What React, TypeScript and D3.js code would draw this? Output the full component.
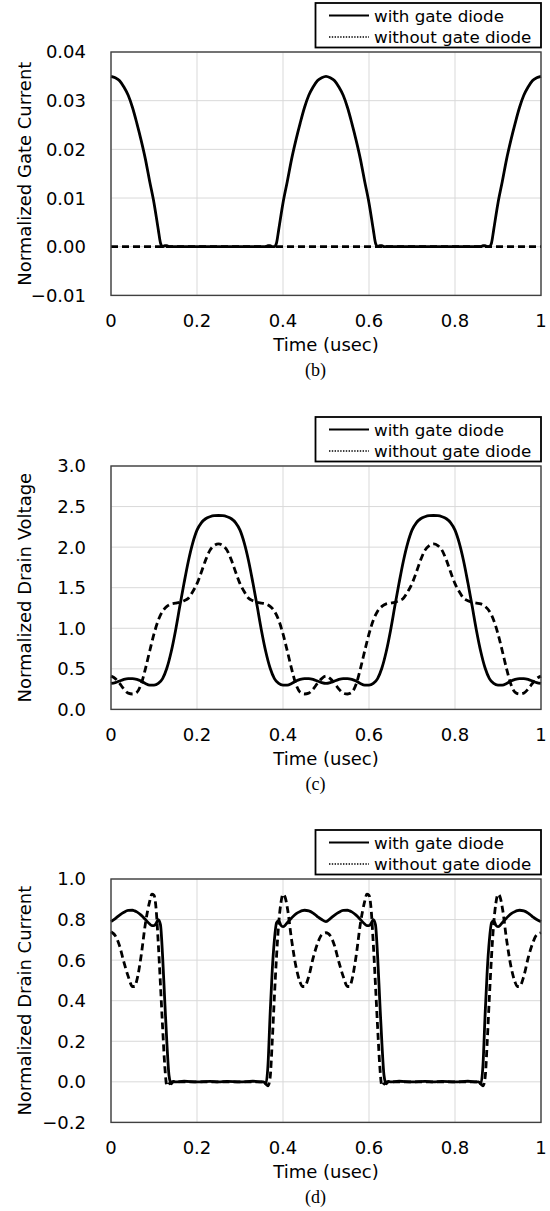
import React from "react";
import * as d3 from "d3";

// ---------- shared axis data ----------
const timeTicks = [0, 0.2, 0.4, 0.6, 0.8, 1];
const timeTickLabels = ["0", "0.2", "0.4", "0.6", "0.8", "1"];
const legendLabels = ["with gate diode", "without gate diode"];
const xTitle = "Time (usec)";

// ---------- panel (b): normalized gate current ----------
const gateTicks = [-0.01, 0, 0.01, 0.02, 0.03, 0.04];
const gateTime = [
  0, 0.01, 0.02, 0.03, 0.04, 0.05, 0.06, 0.07, 0.08, 0.09, 0.1, 0.11, 0.115, 0.12, 0.125, 0.13, 0.135, 0.14, 0.15, 0.2,
  0.25, 0.3, 0.35, 0.36, 0.365, 0.37, 0.375, 0.38, 0.385, 0.39, 0.4, 0.41, 0.42, 0.43, 0.44, 0.45, 0.46, 0.47, 0.48, 0.49,
  0.5, 0.51, 0.52, 0.53, 0.54, 0.55, 0.56, 0.57, 0.58, 0.59, 0.6, 0.61, 0.615, 0.62, 0.625, 0.63, 0.635, 0.64, 0.65, 0.7,
  0.75, 0.8, 0.85, 0.86, 0.865, 0.87, 0.875, 0.88, 0.885, 0.89, 0.9, 0.91, 0.92, 0.93, 0.94, 0.95, 0.96, 0.97, 0.98, 0.99, 1.0,
];
const gateWith = [
  0.035, 0.0347, 0.0341, 0.0328, 0.0311, 0.0286, 0.0254, 0.0219, 0.018, 0.0134, 0.009, 0.0035, 0.0008, 0.0, 0.0002, 0.0002, 0.0, 0.0, 0.0, 0.0,
  0.0, 0.0, 0.0, 0.0, 0.0002, 0.0002, 0.0, 0.0, 0.0008, 0.0035, 0.009, 0.0134, 0.018, 0.0219, 0.0254, 0.0286, 0.0311, 0.0328, 0.0341, 0.0347,
  0.035, 0.0347, 0.0341, 0.0328, 0.0311, 0.0286, 0.0254, 0.0219, 0.018, 0.0134, 0.009, 0.0035, 0.0008, 0.0, 0.0002, 0.0002, 0.0, 0.0, 0.0, 0.0,
  0.0, 0.0, 0.0, 0.0, 0.0002, 0.0002, 0.0, 0.0, 0.0008, 0.0035, 0.009, 0.0134, 0.018, 0.0219, 0.0254, 0.0286, 0.0311, 0.0328, 0.0341, 0.0347, 0.035,
];
const gateWithoutTime = [0, 1];
const gateWithout = [0, 0];

// ---------- panel (c): normalized drain voltage ----------
const voltTicks = [0, 0.5, 1.0, 1.5, 2.0, 2.5, 3.0];
const voltTime = [
  0, 0.01, 0.02, 0.03, 0.04, 0.05, 0.06, 0.07, 0.08, 0.09, 0.1, 0.11, 0.12, 0.13, 0.14, 0.15, 0.16, 0.17, 0.18, 0.19,
  0.2, 0.21, 0.22, 0.23, 0.24, 0.25, 0.26, 0.27, 0.28, 0.29, 0.3, 0.31, 0.32, 0.33, 0.34, 0.35, 0.36, 0.37, 0.38, 0.39,
  0.4, 0.41, 0.42, 0.43, 0.44, 0.45, 0.46, 0.47, 0.48, 0.49, 0.5, 0.51, 0.52, 0.53, 0.54, 0.55, 0.56, 0.57, 0.58, 0.59,
  0.6, 0.61, 0.62, 0.63, 0.64, 0.65, 0.66, 0.67, 0.68, 0.69, 0.7, 0.71, 0.72, 0.73, 0.74, 0.75, 0.76, 0.77, 0.78, 0.79,
  0.8, 0.81, 0.82, 0.83, 0.84, 0.85, 0.86, 0.87, 0.88, 0.89, 0.9, 0.91, 0.92, 0.93, 0.94, 0.95, 0.96, 0.97, 0.98, 0.99, 1.0,
];
const voltWith = [
  0.32, 0.33, 0.35, 0.37, 0.38, 0.38, 0.37, 0.35, 0.32, 0.3, 0.3, 0.32, 0.38, 0.51, 0.71, 0.97, 1.27, 1.56, 1.83, 2.05,
  2.21, 2.3, 2.35, 2.375, 2.388, 2.39, 2.388, 2.375, 2.35, 2.3, 2.21, 2.05, 1.83, 1.56, 1.27, 0.97, 0.71, 0.51, 0.38, 0.32,
  0.3, 0.3, 0.32, 0.35, 0.37, 0.38, 0.38, 0.37, 0.35, 0.33, 0.32, 0.33, 0.35, 0.37, 0.38, 0.38, 0.37, 0.35, 0.32, 0.3,
  0.3, 0.32, 0.38, 0.51, 0.71, 0.97, 1.27, 1.56, 1.83, 2.05, 2.21, 2.3, 2.35, 2.375, 2.388, 2.39, 2.388, 2.375, 2.35, 2.3,
  2.21, 2.05, 1.83, 1.56, 1.27, 0.97, 0.71, 0.51, 0.38, 0.32, 0.3, 0.3, 0.32, 0.35, 0.37, 0.38, 0.38, 0.37, 0.35, 0.33, 0.32,
];
const voltWithout = [
  0.41, 0.38, 0.32, 0.25, 0.2, 0.19, 0.21, 0.31, 0.5, 0.72, 0.93, 1.1, 1.21, 1.27, 1.3, 1.31, 1.32, 1.34, 1.37, 1.45,
  1.55, 1.69, 1.84, 1.96, 2.02, 2.04, 2.02, 1.96, 1.84, 1.69, 1.55, 1.45, 1.37, 1.34, 1.32, 1.31, 1.3, 1.27, 1.21, 1.1,
  0.93, 0.72, 0.5, 0.31, 0.21, 0.19, 0.2, 0.25, 0.32, 0.38, 0.41, 0.38, 0.32, 0.25, 0.2, 0.19, 0.21, 0.31, 0.5, 0.72,
  0.93, 1.1, 1.21, 1.27, 1.3, 1.31, 1.32, 1.34, 1.37, 1.45, 1.55, 1.69, 1.84, 1.96, 2.02, 2.04, 2.02, 1.96, 1.84, 1.69,
  1.55, 1.45, 1.37, 1.34, 1.32, 1.31, 1.3, 1.27, 1.21, 1.1, 0.93, 0.72, 0.5, 0.31, 0.21, 0.19, 0.2, 0.25, 0.32, 0.38, 0.41,
];

// ---------- panel (d): normalized drain current ----------
const currTicks = [-0.2, 0, 0.2, 0.4, 0.6, 0.8, 1.0];
const currTime = [
  0, 0.01, 0.02, 0.03, 0.04, 0.05, 0.055, 0.06, 0.07, 0.08, 0.09, 0.095, 0.1, 0.105, 0.11, 0.115, 0.12, 0.125, 0.13, 0.135,
  0.14, 0.145, 0.15, 0.17, 0.2, 0.23, 0.25,
  0.27, 0.3, 0.33, 0.35, 0.355, 0.36, 0.365, 0.37, 0.375, 0.38, 0.385, 0.39, 0.395, 0.4, 0.405, 0.41, 0.42, 0.43, 0.44, 0.445,
  0.45, 0.46, 0.47, 0.48, 0.49, 0.5,
  0.51, 0.52, 0.53, 0.54, 0.55, 0.555, 0.56, 0.57, 0.58, 0.59, 0.595, 0.6, 0.605, 0.61, 0.615, 0.62, 0.625, 0.63, 0.635,
  0.64, 0.645, 0.65, 0.67, 0.7, 0.73, 0.75,
  0.77, 0.8, 0.83, 0.85, 0.855, 0.86, 0.865, 0.87, 0.875, 0.88, 0.885, 0.89, 0.895, 0.9, 0.905, 0.91, 0.92, 0.93, 0.94, 0.945,
  0.95, 0.96, 0.97, 0.98, 0.99, 1.0,
];
const currWith = [
  0.79, 0.805, 0.822, 0.836, 0.845, 0.846, 0.843, 0.838, 0.822, 0.8, 0.778, 0.77, 0.77, 0.782, 0.8, 0.775, 0.62, 0.4, 0.19, 0.03,
  -0.01, 0.002, 0.0, 0.003, 0.0, 0.002, 0.0,
  0.002, 0.0, 0.003, 0.0, 0.0, -0.01, 0.08, 0.33, 0.55, 0.7, 0.785, 0.795, 0.772, 0.765, 0.772, 0.785, 0.808, 0.828, 0.84, 0.844,
  0.846, 0.843, 0.832, 0.815, 0.8, 0.79,
  0.805, 0.822, 0.836, 0.845, 0.846, 0.843, 0.838, 0.822, 0.8, 0.778, 0.77, 0.77, 0.782, 0.8, 0.775, 0.62, 0.4, 0.19, 0.03,
  -0.01, 0.002, 0.0, 0.003, 0.0, 0.002, 0.0,
  0.002, 0.0, 0.003, 0.0, 0.0, -0.01, 0.08, 0.33, 0.55, 0.7, 0.785, 0.795, 0.772, 0.765, 0.772, 0.785, 0.808, 0.828, 0.84, 0.844,
  0.846, 0.843, 0.832, 0.815, 0.8, 0.79,
];
const currWithout = [
  0.74, 0.72, 0.67, 0.59, 0.52, 0.47, 0.47, 0.5, 0.62, 0.78, 0.89, 0.925, 0.92, 0.85, 0.68, 0.48, 0.27, 0.08, -0.02, -0.01,
  0.0, 0.0, 0.0, 0.0, 0.0, 0.0, 0.0,
  0.0, 0.0, 0.0, 0.0, 0.0, -0.01, -0.02, 0.02, 0.2, 0.42, 0.62, 0.78, 0.88, 0.925, 0.91, 0.86, 0.7, 0.57, 0.49, 0.47,
  0.47, 0.52, 0.61, 0.68, 0.725, 0.735,
  0.72, 0.67, 0.59, 0.52, 0.47, 0.47, 0.5, 0.62, 0.78, 0.89, 0.925, 0.92, 0.85, 0.68, 0.48, 0.27, 0.08, -0.02, -0.01,
  0.0, 0.0, 0.0, 0.0, 0.0, 0.0, 0.0,
  0.0, 0.0, 0.0, 0.0, 0.0, -0.01, -0.02, 0.02, 0.2, 0.42, 0.62, 0.78, 0.88, 0.925, 0.91, 0.86, 0.7, 0.57, 0.49, 0.47,
  0.47, 0.52, 0.61, 0.68, 0.725, 0.735,
];

// ---------- layout ----------
const W = 550;
const H = 1211;
const plotLeft = 111;
const plotRight = 541;
const plotH = 243.4;
const SANS = "'DejaVu Sans', Verdana, sans-serif";
const SERIF = "'Liberation Serif', 'Times New Roman', serif";

type PanelProps = {
  top: number;
  yDomain: [number, number];
  yTicks: number[];
  yDigits: number;
  yTitle: string;
  label: string;
  withT: number[];
  withV: number[];
  withoutT: number[];
  withoutV: number[];
};

function Panel(p: PanelProps) {
  const bottom = p.top + plotH;
  const x = d3.scaleLinear().domain([0, 1]).range([plotLeft, plotRight]);
  const y = d3.scaleLinear().domain(p.yDomain).range([bottom, p.top]);
  const line = d3
    .line<[number, number]>()
    .x((d) => x(d[0]))
    .y((d) => y(d[1]))
    .curve(d3.curveMonotoneX);
  const withPts = p.withT.map((t, i) => [t, p.withV[i]] as [number, number]);
  const withoutPts = p.withoutT.map((t, i) => [t, p.withoutV[i]] as [number, number]);
  const clipId = "clip" + p.label.replace(/[()]/g, "");
  const fmt = d3.format("." + p.yDigits + "f");
  const midY = (p.top + bottom) / 2;
  const legTop = p.top - 49;
  return (
    <g>
      <defs>
        <clipPath id={clipId}>
          <rect x={plotLeft - 2} y={p.top} width={plotRight - plotLeft + 4} height={plotH} />
        </clipPath>
      </defs>
      {/* grid */}
      {p.yTicks.map((v) => (
        <line key={"gy" + v} x1={plotLeft} x2={plotRight} y1={y(v)} y2={y(v)} stroke="#d9d9d9" strokeWidth={1} />
      ))}
      {timeTicks.map((t) => (
        <line key={"gx" + t} x1={x(t)} x2={x(t)} y1={p.top} y2={bottom} stroke="#d9d9d9" strokeWidth={1} />
      ))}
      {/* series */}
      <g clipPath={`url(#${clipId})`}>
        <path d={line(withoutPts) || ""} fill="none" stroke="#000" strokeWidth={2.8} strokeDasharray="7,4" />
        <path d={line(withPts) || ""} fill="none" stroke="#000" strokeWidth={2.8} strokeLinejoin="round" />
      </g>
      {/* frame */}
      <rect x={plotLeft} y={p.top} width={plotRight - plotLeft} height={plotH} fill="none" stroke="#404040" strokeWidth={1.4} />
      {/* y ticks */}
      {p.yTicks.map((v) => (
        <text key={"ty" + v} x={86} y={y(v)} dy="0.36em" textAnchor="end" fontFamily={SANS} fontSize={18} fill="#000">
          {fmt(v)}
        </text>
      ))}
      {/* x ticks */}
      {timeTicks.map((t, i) => (
        <text key={"tx" + t} x={x(t)} y={bottom + 25} dy="0.36em" textAnchor="middle" fontFamily={SANS} fontSize={18} fill="#000">
          {timeTickLabels[i]}
        </text>
      ))}
      <text x={(plotLeft + plotRight) / 2} y={bottom + 49.5} dy="0.36em" textAnchor="middle" fontFamily={SANS} fontSize={18} fill="#000">
        {xTitle}
      </text>
      <text
        transform={`translate(24.5,${midY}) rotate(-90)`}
        dy="0.36em"
        textAnchor="middle"
        fontFamily={SANS}
        fontSize={18}
        fill="#000"
      >
        {p.yTitle}
      </text>
      <text x={315.5} y={bottom + 74.5} dy="0.33em" textAnchor="middle" fontFamily={SERIF} fontSize={18} fill="#000">
        {p.label}
      </text>
      {/* legend */}
      <rect x={315.5} y={legTop} width={225.5} height={44.5} fill="#fff" stroke="#000" strokeWidth={1.8} />
      <line x1={329} x2={369} y1={legTop + 12.5} y2={legTop + 12.5} stroke="#000" strokeWidth={2.2} />
      <line x1={329} x2={369} y1={legTop + 34} y2={legTop + 34} stroke="#000" strokeWidth={1.6} strokeDasharray="1.4,1.4" />
      <text x={374} y={legTop + 12.5} dy="0.36em" fontFamily={SANS} fontSize={16.7} fill="#000">
        {legendLabels[0]}
      </text>
      <text x={374} y={legTop + 34} dy="0.36em" fontFamily={SANS} fontSize={16.7} fill="#000">
        {legendLabels[1]}
      </text>
    </g>
  );
}

export default function App() {
  return (
    <svg
      width={W}
      height={H}
      viewBox={`0 0 ${W} ${H}`}
      style={{ position: "absolute", left: 0, top: 0, background: "#fff" }}
    >
      <rect x={0} y={0} width={W} height={H} fill="#fff" />
      <Panel
        top={52}
        yDomain={[-0.01, 0.04]}
        yTicks={gateTicks}
        yDigits={2}
        yTitle="Normalized Gate Current"
        label="(b)"
        withT={gateTime}
        withV={gateWith}
        withoutT={gateWithoutTime}
        withoutV={gateWithout}
      />
      <Panel
        top={466}
        yDomain={[0, 3]}
        yTicks={voltTicks}
        yDigits={1}
        yTitle="Normalized Drain Voltage"
        label="(c)"
        withT={voltTime}
        withV={voltWith}
        withoutT={voltTime}
        withoutV={voltWithout}
      />
      <Panel
        top={879}
        yDomain={[-0.2, 1.0]}
        yTicks={currTicks}
        yDigits={1}
        yTitle="Normalized Drain Current"
        label="(d)"
        withT={currTime}
        withV={currWith}
        withoutT={currTime}
        withoutV={currWithout}
      />
    </svg>
  );
}
